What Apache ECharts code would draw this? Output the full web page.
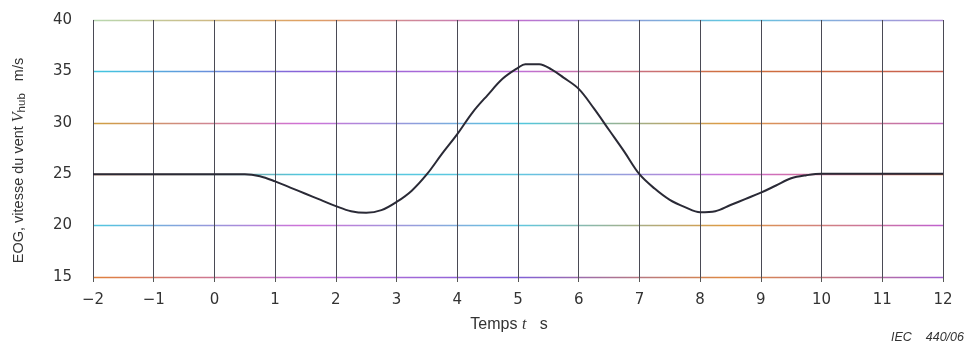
<!DOCTYPE html>
<html>
<head>
<meta charset="utf-8">
<title>EOG</title>
<script src="https://cdn.jsdelivr.net/npm/echarts@6/dist/echarts.min.js"></script>
<style>
  html, body { margin: 0; padding: 0; background: #ffffff; }
  #chart { width: 967px; height: 343px; }
</style>
</head>
<body>
<div id="chart"></div>
<script>
// Time axis (s) and extreme operating gust wind speed (m/s)
const timeS = [-2, -1, 0, 0.5, 0.75, 1, 1.25, 1.5, 1.75, 2, 2.25, 2.5, 2.75, 3, 3.25, 3.5, 3.75, 4, 4.25, 4.5, 4.75, 5, 5.12, 5.35, 5.55, 5.75, 6, 6.25, 6.5, 6.75, 7, 7.25, 7.5, 7.75, 8, 8.25, 8.5, 8.75, 9, 9.25, 9.5, 9.75, 10, 11, 12];
const speed = [25, 25, 25, 25, 24.8, 24.3, 23.7, 23.1, 22.5, 21.9, 21.4, 21.25, 21.5, 22.3, 23.4, 25.0, 27.0, 28.9, 31.0, 32.7, 34.3, 35.35, 35.7, 35.7, 35.2, 34.4, 33.3, 31.4, 29.3, 27.2, 25.0, 23.6, 22.5, 21.8, 21.3, 21.4, 22.0, 22.6, 23.2, 23.9, 24.6, 24.9, 25.05, 25.05, 25.05];

const xTicks = { min: -2, max: 12, step: 1 };
const yTicks = { min: 15, max: 40, step: 5 };

const PLOT_LEFT = 93, PLOT_RIGHT = 24, W = 967;

// Horizontal grid lines drift in hue along their length
function band(stops) {
  return new echarts.graphic.LinearGradient(
    PLOT_LEFT, 0, W - PLOT_RIGHT, 0,
    stops.map((c, i) => ({ offset: i / (stops.length - 1), color: c })),
    true
  );
}
const hLineColors = [
  band(['#e0803a', '#c070d8', '#8060d8', '#e08a40', '#a060d0']),
  band(['#50c8e0', '#d070d8', '#60c8e0', '#e09a40', '#c060d0']),
  band(['#d06a3a', '#50c8e0', '#60c8e0', '#d070d8', '#d06a3a']),
  band(['#d0a040', '#d070d8', '#50c8e0', '#e09a40', '#c06ac0']),
  band(['#40c8e0', '#8a60d8', '#c070d8', '#d0703a', '#c86050']),
  band(['#b8d8b0', '#e0a060', '#c070d0', '#60c8e0', '#b090d8'])
];

const chart = echarts.init(document.getElementById('chart'), null, { renderer: 'canvas' });

const labelFont = { fontFamily: 'DejaVu Sans', fontSize: 15, color: '#333' };

chart.setOption({
  animation: false,
  backgroundColor: '#ffffff',
  grid: { left: PLOT_LEFT, right: PLOT_RIGHT, top: 20, bottom: 66 },
  xAxis: {
    type: 'value',
    min: xTicks.min, max: xTicks.max, interval: xTicks.step,
    axisLine: { show: false },
    axisTick: { show: true, length: 5, lineStyle: { color: '#555' } },
    axisLabel: Object.assign({ margin: 16, formatter: v => String(v).replace('-', '\u2212') }, labelFont),
    splitLine: { show: true, lineStyle: { color: '#4a4a55', width: 1 } },
    name: '{n|Temps }{i|t}{n|   s}',
    nameLocation: 'middle',
    nameGap: 40,
    nameTextStyle: {
      padding: [0, 18, 0, 0],
      rich: {
        n: { fontFamily: 'Liberation Sans', fontSize: 16, color: '#333' },
        i: { fontFamily: 'Liberation Serif', fontStyle: 'italic', fontSize: 16, color: '#333' }
      }
    }
  },
  yAxis: {
    type: 'value',
    min: yTicks.min, max: yTicks.max, interval: yTicks.step,
    axisLine: { show: false },
    axisTick: { show: false },
    axisLabel: Object.assign({ margin: 21 }, labelFont),
    splitLine: { show: true, lineStyle: { color: hLineColors, width: 1.3 } },
    name: '{n|EOG, vitesse du vent }{i|V}{s|hub}{n|   m/s}',
    nameLocation: 'middle',
    nameGap: 65,
    nameTextStyle: {
      padding: [0, 24, 0, 0],
      rich: {
        n: { fontFamily: 'Liberation Sans', fontSize: 14.5, color: '#333' },
        i: { fontFamily: 'Liberation Serif', fontStyle: 'italic', fontSize: 16, color: '#333' },
        s: { fontFamily: 'Liberation Sans', fontSize: 11.5, color: '#333', verticalAlign: 'bottom', padding: [6, 0, 0, 0] }
      }
    }
  },
  series: [{
    type: 'line',
    data: timeS.map((t, i) => [t, speed[i]]),
    smooth: 0.35,
    symbol: 'none',
    lineStyle: { color: '#2a2a36', width: 2 }
  }],
  graphic: [{
    type: 'text',
    right: 3,
    top: 331,
    style: {
      text: 'IEC    440/06',
      fontFamily: 'Liberation Sans',
      fontStyle: 'italic',
      fontSize: 12.5,
      fill: '#333'
    }
  }]
});
</script>
</body>
</html>
